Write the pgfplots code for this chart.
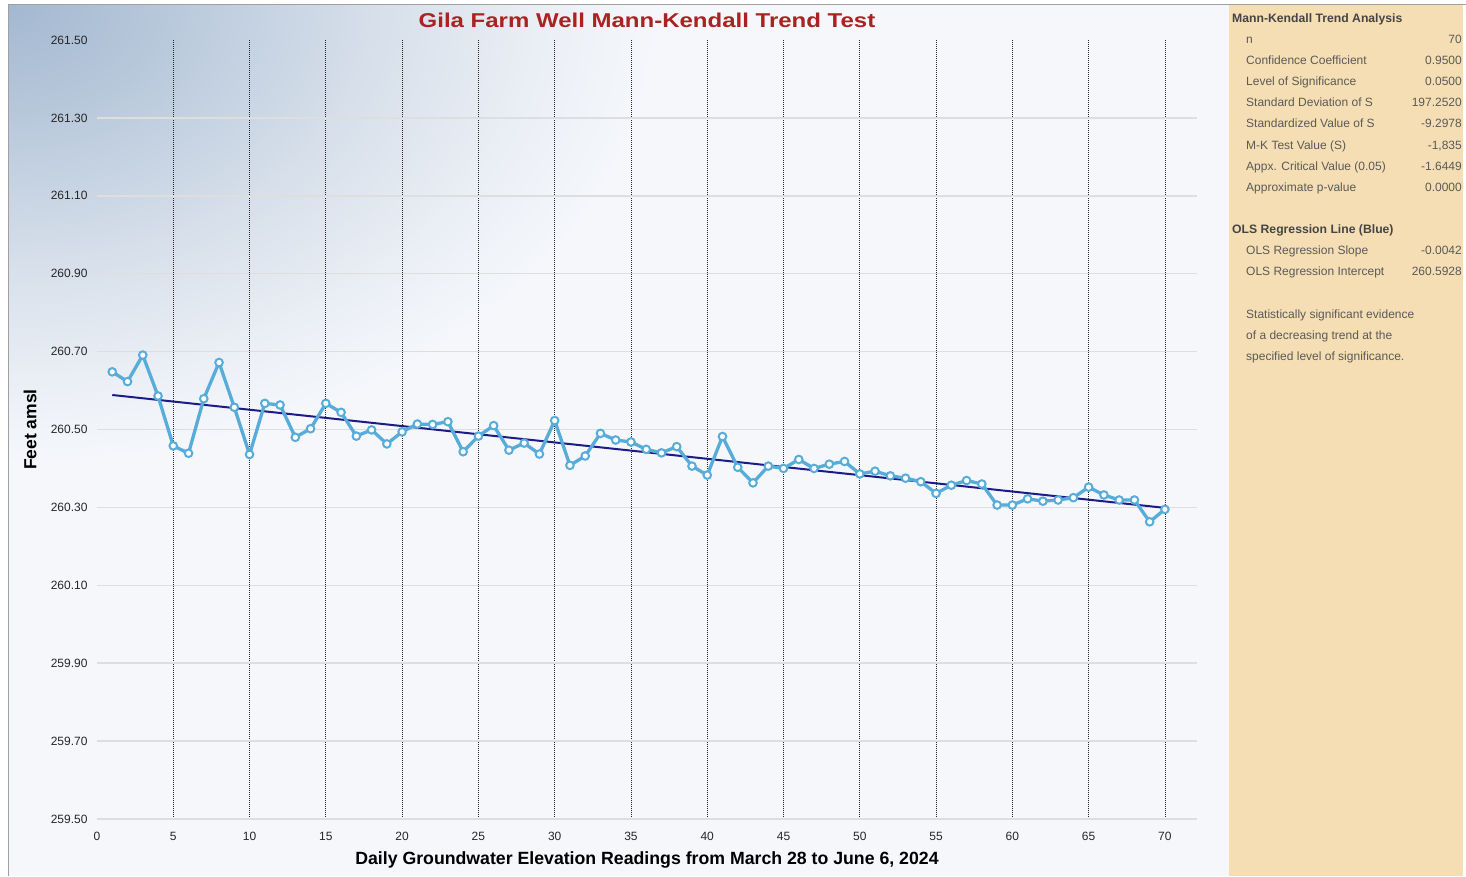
\documentclass[border=0pt]{standalone}
\usepackage{pgfplots}
\pgfplotsset{compat=1.18}
\usepackage{fontspec}
\setmainfont{Liberation Sans}
\newfontfamily\titlefont[FakeStretch=1.2]{Liberation Sans}
\definecolor{bgc}{HTML}{F5F7FB}
\definecolor{gradc}{HTML}{A3B8D1}
\definecolor{gradb}{HTML}{B8C8DB}
\definecolor{gradd}{HTML}{D6DFEA}
\definecolor{grade}{HTML}{ECF0F6}
\definecolor{panelc}{HTML}{F5DEB3}
\definecolor{framec}{HTML}{A0A0A0}
\definecolor{lineblue}{RGB}{88,172,218}
\definecolor{regc}{HTML}{1C1C88}
\definecolor{titlered}{HTML}{AA2222}
\definecolor{gridc}{HTML}{DEDEDE}
\definecolor{ptext}{HTML}{5A5A5A}
\definecolor{phead}{HTML}{454545}
\pgfdeclareradialshading{cornershade}{\pgfpoint{0bp}{0bp}}{color(0bp)=(gradc); color(6bp)=(gradb); color(14bp)=(gradd); color(21bp)=(grade); color(25bp)=(bgc); color(50bp)=(bgc)}
\begin{document}
\begin{tikzpicture}[x=1pt,y=1pt]
\useasboundingbox (0,0) rectangle (1466,876);
\fill[white] (0,0) rectangle (1466,876);
% left background with gradient
\fill[bgc] (9,0) rectangle (1229,871);
\begin{scope}
\clip (9,0) rectangle (1229,871);
\shade[shading=cornershade] (-641,411) rectangle (659,1331);
\end{scope}
% right panel
\fill[panelc] (1229,0) rectangle (1463,871);
% frame
\draw[framec, line width=1.5pt] (8.5,0) -- (8.5,871.5) -- (1466,871.5);

\begin{axis}[
  at={(97pt,57pt)}, anchor=south west,
  scale only axis, width=1100pt, height=779pt,
  xmin=0, xmax=72.1, ymin=259.5, ymax=261.5,
  axis line style={draw=none},
  major tick length=0pt,
  xtick={0,5,10,15,20,25,30,35,40,45,50,55,60,65,70},
  ytick={259.5,259.7,259.9,260.1,260.3,260.5,260.7,260.9,261.1,261.3,261.5},
  yticklabel={\pgfmathprintnumber[fixed,fixed zerofill,precision=2]{\tick}},
  /pgf/number format/assume math mode=true,
  ticklabel style={font=\fontsize{12}{14}\selectfont, text=black!85},
  yticklabel style={xshift=-6pt},
  xticklabel style={yshift=-10pt},
  extra x ticks={5,10,15,20,25,30,35,40,45,50,55,60,65,70},
  extra x tick labels={},
  extra x tick style={grid=major, major grid style={black!85, line width=0.8pt, dash pattern=on 1pt off 1pt}},
  extra y ticks={259.5,259.7,259.9,260.1,260.3,260.5,260.7,260.9,261.1,261.3},
  extra y tick labels={},
  extra y tick style={grid=major, major grid style={gridc, line width=1.5pt}},
  title={Gila Farm Well Mann-Kendall Trend Test},
  title style={at={(axis description cs:0.5,1.018)}, anchor=center,
    font=\titlefont\bfseries\fontsize{20}{22}\selectfont, text=titlered},
  xlabel={Daily Groundwater Elevation Readings from March 28 to June 6, 2024},
  xlabel style={at={(axis description cs:0.5,-0.0527)}, anchor=center,
    font=\bfseries\fontsize{17.7}{20}\selectfont},
  ylabel={Feet amsl},
  ylabel style={at={(axis description cs:-0.0609,0.5)}, anchor=center,
    font=\bfseries\fontsize{17.5}{20}\selectfont},
  clip=false,
]
\addplot[regc, line width=2pt] coordinates {(1,260.5886) (70,260.2988)};
\addplot[lineblue, line width=3.3pt, mark=*, mark size=3.8pt,
  mark options={fill=white, draw=lineblue, line width=2pt}] table {
x y
1 260.648
2 260.623
3 260.691
4 260.586
5 260.458
6 260.439
7 260.579
8 260.672
9 260.557
10 260.436
11 260.567
12 260.563
13 260.480
14 260.502
15 260.567
16 260.544
17 260.483
18 260.499
19 260.463
20 260.494
21 260.514
22 260.513
23 260.520
24 260.443
25 260.483
26 260.510
27 260.447
28 260.465
29 260.437
30 260.523
31 260.408
32 260.432
33 260.490
34 260.473
35 260.468
36 260.449
37 260.440
38 260.456
39 260.406
40 260.383
41 260.482
42 260.403
43 260.363
44 260.406
45 260.400
46 260.423
47 260.400
48 260.411
49 260.418
50 260.386
51 260.393
52 260.381
53 260.375
54 260.366
55 260.336
56 260.357
57 260.369
58 260.360
59 260.306
60 260.306
61 260.322
62 260.316
63 260.319
64 260.325
65 260.352
66 260.332
67 260.319
68 260.319
69 260.263
70 260.295
};
\end{axis}

% right panel text
\begin{scope}[every node/.style={inner sep=0pt, font=\fontsize{12}{14}\selectfont, text=ptext}]
\node[anchor=base west, text=phead, font=\bfseries\fontsize{12.2}{14}\selectfont] at (1232,853.7) {Mann-Kendall Trend Analysis};
\node[anchor=base west] at (1246,832.7) {n};
\node[anchor=base east] at (1462,832.7) {70};
\node[anchor=base west] at (1246,811.7) {Confidence Coefficient};
\node[anchor=base east] at (1462,811.7) {0.9500};
\node[anchor=base west] at (1246,790.7) {Level of Significance};
\node[anchor=base east] at (1462,790.7) {0.0500};
\node[anchor=base west] at (1246,769.7) {Standard Deviation of S};
\node[anchor=base east] at (1462,769.7) {197.2520};
\node[anchor=base west] at (1246,748.7) {Standardized Value of S};
\node[anchor=base east] at (1462,748.7) {-9.2978};
\node[anchor=base west] at (1246,726.7) {M-K Test Value (S)};
\node[anchor=base east] at (1462,726.7) {-1,835};
\node[anchor=base west] at (1246,705.7) {Appx. Critical Value (0.05)};
\node[anchor=base east] at (1462,705.7) {-1.6449};
\node[anchor=base west] at (1246,684.7) {Approximate p-value};
\node[anchor=base east] at (1462,684.7) {0.0000};
\node[anchor=base west, text=phead, font=\bfseries\fontsize{12.2}{14}\selectfont] at (1232,642.7) {OLS Regression Line (Blue)};
\node[anchor=base west] at (1246,621.7) {OLS Regression Slope};
\node[anchor=base east] at (1462,621.7) {-0.0042};
\node[anchor=base west] at (1246,600.7) {OLS Regression Intercept};
\node[anchor=base east] at (1462,600.7) {260.5928};
\node[anchor=base west] at (1246,557.7) {Statistically significant evidence};
\node[anchor=base west] at (1246,536.7) {of a decreasing trend at the};
\node[anchor=base west] at (1246,515.7) {specified level of significance.};
\end{scope}
\end{tikzpicture}
\end{document}
